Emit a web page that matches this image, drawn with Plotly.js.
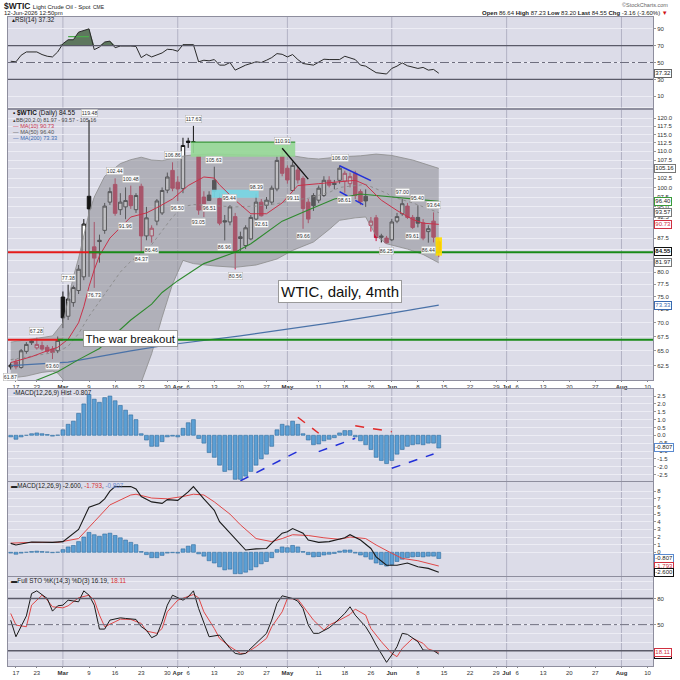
<!DOCTYPE html>
<html>
<head>
<meta charset="utf-8">
<script src="https://cdn.plot.ly/plotly-3.0.1.min.js"></script>
<style>
html,body{margin:0;padding:0;background:#ffffff;}
#chart{width:680px;height:680px;}
</style>
</head>
<body>
<div id="chart"></div>
<script>
// ================= DATA =================
const candleStart = '02-13';
const openP = [62.3,63.1,62.2,64.9,66.7,65.5,65.9,65.6,65.3,65.0,
74.9,71.2,73.8,76.2,79.0,97.7,85.5,87.0,89.3,96.2,
100.8,94.3,95.0,97.9,94.3,100.3,88.0,88.0,91.5,93.5,
99.3,104.6,101.4,99.7,113.0,112.6,108.7,97.5,98.0,101.9,
97.1,91.6,91.3,92.6,87.8,85.8,87.3,92.0,96.2,95.4,
96.2,99.6,108.7,105.2,99.2,104.7,102.4,96.2,97.9,96.7,
97.9,101.9,101.1,101.9,101.7,101.0,103.8,98.9,97.7,90.5,
92.3,88.0,87.5,87.1,91.5,93.3,95.2,92.4,92.4,91.1,
89.0,91.5,86.64];
const highP = [63.0,63.6,65.3,66.5,66.9,67.28,66.6,66.0,65.8,67.5,
76.0,77.38,77.2,81.5,92.0,119.48,91.3,88.3,96.0,100.0,
102.44,98.5,100.0,100.48,98.5,101.0,95.0,90.5,97.0,100.0,
104.0,106.86,103.0,114.0,114.0,117.63,109.0,99.0,99.0,105.63,
98.5,93.0,95.44,93.5,89.0,90.5,93.0,98.39,97.0,97.5,
100.5,108.5,110.91,106.0,107.0,105.5,103.0,97.0,98.5,100.5,
103.0,103.0,102.0,106.0,104.5,104.0,104.5,99.5,99.5,92.5,
93.0,88.5,88.0,92.0,93.5,97.0,96.0,93.0,95.40,92.0,
90.5,93.64,87.23];
const lowP = [61.87,61.9,62.0,64.5,66.0,65.2,65.0,64.6,63.60,64.6,
69.0,70.5,73.0,75.5,78.3,79.0,76.73,82.0,88.5,95.5,
92.8,93.0,91.96,94.5,93.5,84.37,87.0,86.46,90.5,93.0,
98.5,99.0,96.50,98.5,111.0,109.5,93.05,92.5,96.51,97.5,
90.5,86.96,90.5,80.56,84.5,85.0,87.0,91.5,92.61,94.5,
95.5,99.0,103.0,101.0,99.11,101.0,89.66,91.0,94.0,96.0,
97.5,100.0,99.5,101.0,98.61,100.0,97.0,95.5,95.0,89.0,
86.8,86.5,86.25,86.8,91.0,92.8,92.0,89.61,90.0,87.0,
86.44,86.5,83.20];
const closeP = [62.6,62.3,65.0,66.1,66.4,66.1,65.3,64.9,64.7,66.8,
70.9,74.5,76.8,80.6,90.8,94.5,83.0,86.7,95.2,98.9,
93.4,96.2,96.6,95.3,97.9,88.0,92.3,89.8,96.5,99.2,
102.8,99.8,99.6,111.7,112.6,112.8,94.2,94.1,96.6,99.0,
91.0,91.3,95.0,84.3,87.4,89.9,92.4,96.2,92.8,96.7,
99.8,107.4,103.8,102.0,106.0,102.0,94.6,92.0,95.3,99.8,
101.9,100.6,100.8,105.2,103.8,102.9,97.9,96.3,96.5,91.5,
87.6,87.7,86.4,91.3,92.6,95.8,92.4,90.0,91.0,87.5,
89.7,87.71,84.55];

const macdHist = [-0.1,-0.25,-0.1,0.0,0.1,0.15,0.1,0.05,-0.05,0.02,
0.35,0.7,0.9,1.4,2.0,2.6,2.3,2.1,2.4,2.5,
2.2,1.9,1.6,1.3,1.0,0.1,-0.3,-0.7,-0.7,-0.4,
-0.1,-0.05,-0.1,0.45,0.8,1.0,-0.2,-0.5,-1.1,-1.4,
-1.9,-2.3,-2.2,-2.8,-2.8,-2.6,-2.3,-1.9,-1.5,-1.2,
-0.7,0.35,0.7,0.6,0.9,0.7,0.1,-0.3,-0.6,-0.55,
-0.35,-0.25,-0.15,0.15,0.3,0.3,-0.1,-0.35,-0.6,-0.9,
-1.4,-1.6,-1.8,-1.6,-1.2,-0.9,-0.7,-0.6,-0.55,-0.6,
-0.5,-0.5,-0.807];

const macdDates = ['02-13','02-17','02-20','02-26','03-02','03-03','03-05','03-09','03-11','03-12','03-13','03-16','03-19','03-20','03-23','03-25','03-27','03-30','04-01','04-06','04-07','04-09','04-13','04-14','04-16','04-20','04-21','04-23','04-27','04-28','04-30','05-01','05-04','05-06','05-07','05-11','05-13','05-18','05-19','05-21','05-26','05-27','05-29','06-02','06-04','06-08','06-10','06-12'];
const macdVals = [1.17,0.96,1.35,1.3,1.4,1.9,3.0,5.9,6.4,7.0,8.0,8.6,8.6,8.3,7.3,6.6,6.4,6.9,6.8,7.9,8.6,7.0,5.5,4.0,2.5,1.0,0.3,0.45,0.5,1.2,2.5,2.7,3.1,2.5,1.6,1.3,1.4,1.9,2.3,1.6,0.5,-0.6,-1.7,-1.7,-1.4,-1.9,-2.1,-2.6];
const sigDates = ['02-13','02-20','02-27','03-05','03-10','03-13','03-19','03-20','03-25','03-30','04-02','04-07','04-09','04-13','04-16','04-20','04-23','04-28','04-30','05-04','05-07','05-12','05-15','05-19','05-22','05-27','06-01','06-03','06-08','06-10','06-12'];
const sigVals = [1.2,1.3,1.3,1.8,4.0,6.2,7.5,7.6,7.1,7.0,7.3,7.6,7.5,6.6,5.0,3.6,1.8,1.4,1.8,2.3,2.2,1.9,1.7,2.0,1.8,0.96,-0.13,-0.8,-1.1,-1.4,-1.793];

const rsiDates = ['02-13','02-17','02-18','02-19','02-23','02-24','02-25','02-26','02-27','03-02','03-03','03-04','03-05','03-09','03-10','03-11','03-12','03-13','03-16','03-17','03-19','03-20','03-23','03-24','03-25','03-27','03-30','03-31','04-01','04-02','04-07','04-08','04-09','04-10','04-13','04-14','04-15','04-16','04-17','04-20','04-21','04-23','04-24','04-27','04-28','04-29','04-30','05-01','05-04','05-05','05-06','05-08','05-11','05-12','05-13','05-15','05-18','05-19','05-20','05-21','05-22','05-26','05-27','05-29','06-01','06-02','06-03','06-04','06-08','06-09','06-10','06-11','06-12'];
const rsiVals = [51.5,50.8,58.6,62.5,62.5,59.4,57.4,56.6,62.5,72.2,76.9,76.9,85.9,89.8,65.2,68.3,74.2,75.3,67.5,69.5,69.5,69.0,55.8,59.7,56.6,61.3,65.6,65.2,63.3,71.1,71.1,50.8,52.7,52.0,53.5,46.9,46.9,50.0,41.0,43.8,46.9,50.8,50.0,52.7,55.8,60.5,59.7,56.6,59.4,53.5,48.8,46.9,50.0,53.9,53.5,53.5,57.4,55.8,53.5,46.9,45.7,41.8,38.0,36.4,43.0,45.7,49.6,46.1,43.0,44.2,41.0,41.8,37.32];
const rsiLevels = [30, 70];
const rsiMid = 50;
const rsiMarkDates = ['03-03','03-09'];
const rsiMarkLevel = 80.5;

const stoKDates = ['02-13','02-17','02-19','02-20','02-23','02-25','02-26','02-27','03-02','03-03','03-05','03-06','03-09','03-10','03-11','03-12','03-13','03-17','03-18','03-20','03-23','03-24','03-25','03-26','03-27','03-30','03-31','04-02','04-06','04-07','04-08','04-09','04-10','04-14','04-15','04-16','04-17','04-20','04-21','04-23','04-24','04-27','04-28','04-29','04-30','05-04','05-05','05-06','05-07','05-08','05-11','05-13','05-14','05-15','05-18','05-19','05-20','05-22','05-26','05-27','05-28','05-29','06-01','06-02','06-03','06-04','06-08','06-09','06-11','06-12'];
const stoKVals = [55.0,36.1,60.0,85.7,88.8,80.0,65.5,71.6,72.4,78.1,76.2,88.8,83.8,72.4,44.9,44.9,55.2,57.8,57.1,56.0,47.6,43.7,35.0,38.0,53.3,72.4,83.8,78.1,81.9,88.8,68.5,51.4,36.1,38.0,30.4,22.7,17.0,15.9,17.0,28.5,34.2,40.0,55.2,74.3,83.1,80.0,76.9,68.5,49.5,40.0,40.0,46.4,51.4,57.1,62.8,70.5,60.9,47.6,38.0,26.6,15.9,6.7,15.1,24.7,40.0,38.8,30.4,20.8,20.1,16.19];
const stoDDates = ['02-13','02-17','02-19','02-20','02-24','02-25','02-26','03-02','03-03','03-04','03-05','03-09','03-10','03-11','03-12','03-16','03-17','03-19','03-23','03-24','03-26','03-27','03-30','04-01','04-02','04-07','04-08','04-09','04-13','04-14','04-16','04-20','04-21','04-23','04-27','04-28','04-30','05-01','05-05','05-06','05-08','05-12','05-13','05-15','05-19','05-20','05-22','05-26','05-28','06-01','06-02','06-03','06-05','06-09','06-10','06-12'];
const stoDVals = [62.8,49.5,47.6,72.4,83.8,78.1,70.5,69.3,71.6,76.2,80.8,83.8,78.1,60.9,47.6,53.3,56.3,56.0,51.4,42.6,40.0,45.6,64.7,78.1,80.0,84.6,80.8,64.7,45.6,34.2,24.7,17.0,17.0,24.7,34.2,47.6,64.7,80.0,79.2,71.6,55.2,43.7,49.5,55.2,61.7,67.8,60.9,45.6,30.4,17.0,13.2,22.7,34.2,28.5,22.0,18.11];
const stoLevels = [20, 80];
const stoMid = 50;

const bbUpDates = ['02-13','02-20','02-26','03-02','03-03','03-04','03-05','03-09','03-10','03-12','03-17','03-19','03-23','03-25','03-27','04-01','04-07','04-13','04-20','04-27','05-04','05-07','05-11','05-15','05-21','05-27','06-01','06-05','06-09','06-12'];
const bbUpVals = [66.5,67.0,67.6,70.0,74.5,79.0,83.0,93.5,97.5,103.0,106.5,107.6,108.3,107.5,107.3,108.4,109.0,109.2,109.0,108.8,108.7,108.0,107.8,108.4,108.7,109.2,108.8,107.5,106.5,105.16];
const bbLoDates = ['02-13','02-19','02-24','02-26','02-27','03-02','03-03','03-05','03-09','03-12','03-17','03-19','03-23','03-25','03-27','03-31','04-02','04-07','04-13','04-17','04-23','04-29','05-04','05-06','05-08','05-13','05-15','05-20','05-22','05-27','05-29','06-04','06-09','06-12'];
const bbLoVals = [60.5,60.8,61.4,61.6,61.3,60.3,58.5,54.0,49.0,48.0,53.5,57.0,59.8,64.5,71.0,77.5,82.5,81.8,81.3,81.0,81.5,82.8,84.7,85.6,86.6,89.5,91.7,92.3,92.5,88.0,86.2,85.0,83.8,81.97];
const bbMidDates = ['02-13','02-27','03-03','03-05','03-09','03-12','03-17','03-19','03-23','03-25','03-27','03-31','04-02','04-07','04-13','04-17','04-23','04-29','05-04','05-07','05-13','05-15','05-20','05-22','05-29','06-01','06-05','06-12'];
const bbMidVals = [63.5,64.8,65.8,68.0,71.2,75.5,80.0,82.3,84.0,86.0,89.2,92.5,95.0,95.6,95.3,95.0,95.2,95.8,96.7,97.2,98.7,100.0,100.5,100.8,98.5,97.6,96.0,93.57];
const ma10Dates = ['02-13','02-20','02-25','02-27','03-03','03-05','03-06','03-09','03-10','03-11','03-13','03-17','03-19','03-24','03-26','03-31','04-06','04-09','04-13','04-14','04-17','04-22','04-27','04-30','05-05','05-11','05-15','05-20','05-22','05-28','06-02','06-05','06-09','06-12'];
const ma10Vals = [63.0,64.0,65.0,65.6,67.0,70.0,73.0,77.0,80.5,83.5,87.5,90.0,92.5,93.5,94.8,97.0,100.5,102.8,102.5,100.7,96.7,93.3,93.3,96.0,100.5,101.0,101.5,101.9,100.7,96.7,94.1,91.9,91.0,90.73];
const ma50Dates = ['02-19','02-27','03-05','03-11','03-19','03-25','03-27','04-01','04-09','04-17','04-22','04-30','05-07','05-14','05-21','05-29','06-08','06-12'];
const ma50Vals = [59.5,61.5,63.5,65.4,70.5,73.5,75.8,78.2,81.8,84.3,86.2,91.5,94.2,97.0,98.3,97.6,96.8,96.4];
const ma200Dates = ['02-13','03-03','03-19','03-30','04-20','05-04','05-15','06-01','06-12'];
const ma200Vals = [62.5,63.1,65.0,66.0,67.6,68.9,70.2,71.8,73.33];

const supportHigh = 84.3, supportLow = 66.9;
const supHighRedEnd = '03-11', supHighGreenStart = '03-09';
const supLowRedEnd = '03-02', supLowGreenStart = '02-27';
const greenZoneDates = ['04-07','05-04'], greenZoneVals = [108.4, 112.7];
const cyanZoneDates = ['04-13','04-23'], cyanZoneVals = [97.3, 99.4];

const trendBlackDates = ['04-30','05-07'], trendBlackVals = [110.9, 102.2];
const trendBlueUpDates = ['05-15','05-26'], trendBlueUpVals = [105.9, 101.8];
const trendBlueLoDates = ['05-15','05-26'], trendBlueLoVals = [98.9, 94.5];
const histBlueDates = [['04-20','05-06'],['05-11','05-20'],['06-01','06-11']];
const histBlueVals = [[-2.9,-0.85],[-1.04,-0.19],[-2.1,-1.19]];
const histRedDates = [['05-05','05-11'],['05-20','06-01']];
const histRedVals = [[1.15,0.13],[0.61,0.23]];

const hiLabelDates = ['02-23','03-03','03-09','03-16','03-19','03-31','04-07','04-13','04-16','04-23','04-30','05-15','06-03','06-08','06-11'];
const hiLabelVals = [67.28,77.38,119.48,102.44,100.48,106.86,117.63,105.63,95.44,98.39,110.91,106.00,97.00,95.40,93.64];
const loLabelDates = ['02-13','02-26','03-10','03-18','03-23','03-25','04-01','04-08','04-10','04-15','04-17','04-24','05-04','05-06','05-18','05-29','06-05','06-10'];
const loLabelVals = [61.87,63.60,76.73,91.96,84.37,86.46,96.50,93.05,96.51,86.96,80.56,92.61,99.11,89.66,98.61,86.25,89.61,86.44];

const tickDates = ['02-17','02-23','03-02','03-09','03-16','03-23','03-30','04-01','04-06','04-13','04-20','04-27','05-01','05-11','05-18','05-26','06-01','06-08','06-15','06-22','06-29','07-01','07-06','07-13','07-20','07-27','08-03','08-10'];
const tickLabels = ['17','23','Mar','9','16','23','30','Apr','6','13','20','27','May','11','18','26','Jun','8','15','22','29','Jul','6','13','20','27','Aug','10'];
const monthStarts = ['03-02','04-01','05-01','06-01','07-01','08-03'];
const priceTicks = [62.5,65,67.5,70,72.5,75,77.5,80,82.5,85,87.5,90,92.5,95,97.5,100,102.5,105,107.5,110,112.5,115,117.5,120];
const rsiTicks = [10,30,50,70,90];
const histTicks = [-2.5,-2,-1.5,-1,-0.5,0,0.5,1,1.5,2,2.5];
const macdTicks = [0,1,2,3,4,5,6,7,8];
const stoTicks = [20,50,80];

// ================= TRADING CALENDAR =================
const HOLIDAYS = ['2026-02-16','2026-04-03','2026-05-25','2026-07-03'];
function buildCalendar(a, b){
  const out = []; const d = new Date(a + 'T00:00:00Z'); const e = new Date(b + 'T00:00:00Z');
  while (d <= e) {
    const wd = d.getUTCDay(); const s = d.toISOString().slice(0,10);
    if (wd !== 0 && wd !== 6 && HOLIDAYS.indexOf(s) < 0) out.push(s);
    d.setUTCDate(d.getUTCDate() + 1);
  }
  return out;
}
const CAL = buildCalendar('2026-02-12','2026-08-14');
const D = md => CAL.indexOf('2026-' + md);
const XS = arr => arr.map(D);
const s0 = D(candleStart);
const candleX = openP.map((_, k) => s0 + k);
const XR = [0.48, 124.04];
const X0 = 8/680, X1 = 653/680;
const PX = p => p/680, PY = p => 1 - p/680;
const dom = {
  rsi:[PY(107.5), PY(16.5)], price:[PY(380), PY(110)], hist:[PY(481), PY(389)],
  macd:[PY(576), PY(482)], sto:[PY(666), PY(577)]
};
const last = a => a[a.length-1];
const RED = '#c8143c', BLK = '#151515';

// ================= TRACES =================
const traces = [];
function line(xa, ya, x, y, color, width, dash, extra){
  traces.push(Object.assign({type:'scatter', mode:'lines', xaxis:xa, yaxis:ya, x, y,
    line:{color, width, dash: dash || 'solid'}, hoverinfo:'skip', showlegend:false}, extra || {}));
}

// RSI panel
const rx = XS(rsiDates);
line('x','y', rx, rx.map(() => rsiLevels[1]), 'rgba(0,0,0,0)', 0);
line('x','y', rx, rsiVals.map(v => Math.max(v, rsiLevels[1])), 'rgba(0,0,0,0)', 0, null, {fill:'tonexty', fillcolor:'#5e775e'});
line('x','y', XS(rsiMarkDates), rsiMarkDates.map(() => rsiMarkLevel), '#4caa4c', 1.2);
line('x','y', rx, rsiVals, '#2a2a2a', 1);

// Price panel: Bollinger band
line('x2','y2', XS(bbUpDates), bbUpVals, '#8c8c8c', 0.8);
line('x2','y2', XS(bbLoDates), bbLoVals, '#8c8c8c', 0.8, null, {fill:'tonexty', fillcolor:'rgba(140,140,145,0.55)'});
// zones
const gz = XS(greenZoneDates);
line('x2','y2', [gz[0]-0.5, gz[1]+0.5, gz[1]+0.5, gz[0]-0.5, gz[0]-0.5],
  [greenZoneVals[0], greenZoneVals[0], greenZoneVals[1], greenZoneVals[1], greenZoneVals[0]],
  'rgba(0,0,0,0)', 0, null, {fill:'toself', fillcolor:'rgba(150,215,150,0.92)'});
line('x2','y2', [gz[0]-0.5, gz[1]+0.5], [greenZoneVals[1], greenZoneVals[1]], '#3c963c', 1.3);
const cz = XS(cyanZoneDates);
line('x2','y2', [cz[0]-0.5, cz[1]+0.5, cz[1]+0.5, cz[0]-0.5, cz[0]-0.5],
  [cyanZoneVals[0], cyanZoneVals[0], cyanZoneVals[1], cyanZoneVals[1], cyanZoneVals[0]],
  'rgba(0,0,0,0)', 0, null, {fill:'toself', fillcolor:'rgba(120,215,228,0.9)'});
// moving averages
line('x2','y2', XS(bbMidDates), bbMidVals, '#8a8a8a', 0.9, 'dot');
line('x2','y2', XS(ma200Dates), ma200Vals, '#4a72a8', 1.2);
line('x2','y2', XS(ma50Dates), ma50Vals, '#2f8a2f', 1.1);
line('x2','y2', XS(ma10Dates), ma10Vals, '#c8324a', 1);
// support lines
line('x2','y2', [XR[0]-2, D(supHighRedEnd)], [supportHigh, supportHigh], '#e41a1a', 2);
line('x2','y2', [D(supHighGreenStart), XR[1]+2], [supportHigh, supportHigh], '#198a19', 2);
line('x2','y2', [XR[0]-2, D(supLowRedEnd)], [supportLow, supportLow], '#e41a1a', 2);
line('x2','y2', [D(supLowGreenStart), XR[1]+2], [supportLow, supportLow], '#198a19', 2);
// trend lines
line('x2','y2', XS(trendBlackDates), trendBlackVals, '#111', 1.3);
line('x2','y2', XS(trendBlueUpDates), trendBlueUpVals, '#2230d8', 1.5);
line('x2','y2', XS(trendBlueLoDates), trendBlueLoVals, '#2230d8', 1.5, 'dash');
// highlight of the current bar
const lk = closeP.length - 1, lx = candleX[lk];
const bTop = Math.max(openP[lk], closeP[lk]) * 1.012, bBot = Math.min(openP[lk], closeP[lk]) * 0.988;
line('x2','y2', [lx-0.62, lx+0.62, lx+0.62, lx-0.62, lx-0.62], [bBot, bBot, bTop, bTop, bBot],
  'rgba(0,0,0,0)', 0, null, {fill:'toself', fillcolor:'rgba(255,222,0,0.9)'});
// candles: black when close >= previous close, red otherwise
const grp = {k:{x:[],o:[],h:[],l:[],c:[]}, r:{x:[],o:[],h:[],l:[],c:[]}};
closeP.forEach((c, k) => {
  const prev = k > 0 ? closeP[k-1] : openP[k];
  const g = c >= prev ? grp.k : grp.r;
  g.x.push(candleX[k]); g.o.push(openP[k]); g.h.push(highP[k]); g.l.push(lowP[k]); g.c.push(c);
});
function candle(g, col){
  traces.push({type:'candlestick', xaxis:'x2', yaxis:'y2', x:g.x, open:g.o, high:g.h, low:g.l, close:g.c,
    increasing:{line:{color:col, width:1}, fillcolor:'#ffffff'},
    decreasing:{line:{color:col, width:1}, fillcolor:col},
    whiskerwidth:0, hoverinfo:'skip', showlegend:false});
}
candle(grp.k, BLK);
candle(grp.r, RED);

// MACD histogram panels
function histBars(xa, ya){
  traces.push({type:'bar', xaxis:xa, yaxis:ya, x:candleX, y:macdHist, width:0.74,
    marker:{color:'#5c9fd4', line:{color:'#2d6a9c', width:0.6}}, hoverinfo:'skip', showlegend:false});
}
histBars('x3','y3');
histBars('x4','y4');
line('x4','y4', XS(sigDates), sigVals, '#e04848', 1);
line('x4','y4', XS(macdDates), macdVals, '#1a1a1a', 1.1);

// STO panel
line('x5','y5', XS(stoDDates), stoDVals, '#e04848', 1);
line('x5','y5', XS(stoKDates), stoKVals, '#1a1a1a', 1);

// ================= AXES =================
const tickX = XS(tickDates);
const tickText = tickLabels.map(t => isNaN(+t) ? '<b>' + t + '</b>' : t);
function xax(anchor, show){
  return {type:'linear', domain:[X0, X1], anchor, range:XR, tickmode:'array', tickvals:tickX, ticktext:tickText,
    showticklabels:show, ticks: show ? 'outside' : '', ticklen:1, tickcolor:'#888',
    tickfont:{size:6, color:'#333'}, tickangle:0, showgrid:false, zeroline:false,
    showline:true, mirror:true, linecolor:'#8e8e9e', linewidth:1, fixedrange:true, rangeslider:{visible:false}};
}
function yax(d, anchor, range, tv, tt, extra){
  return Object.assign({domain:d, anchor, side:'right', range, tickmode:'array', tickvals:tv, ticktext:tt,
    showgrid:true, gridcolor:'#ececf4', gridwidth:1, zeroline:false, showline:true, mirror:true,
    linecolor:'#8e8e9e', linewidth:1, ticks:'outside', ticklen:2, tickcolor:'#999',
    tickfont:{size:6, color:'#333'}, fixedrange:true}, extra || {});
}

// ================= SHAPES =================
const shapes = [];
[['x','y'],['x2','y2'],['x3','y3'],['x4','y4'],['x5','y5']].forEach(([xa, ya]) => {
  monthStarts.forEach(m => shapes.push({type:'line', xref:xa, yref:ya + ' domain', x0:D(m), x1:D(m), y0:0, y1:1,
    line:{color:'#b2b2c4', width:1}, layer:'below'}));
});
rsiLevels.forEach(v => shapes.push({type:'line', xref:'x domain', yref:'y', x0:0, x1:1, y0:v, y1:v, line:{color:'#5a5a68', width:1.4}}));
shapes.push({type:'line', xref:'x domain', yref:'y', x0:0, x1:1, y0:rsiMid, y1:rsiMid, line:{color:'#6e6e7e', width:1, dash:'dashdot'}});
stoLevels.forEach(v => shapes.push({type:'line', xref:'x5 domain', yref:'y5', x0:0, x1:1, y0:v, y1:v, line:{color:'#5a5a68', width:1.4}}));
shapes.push({type:'line', xref:'x5 domain', yref:'y5', x0:0, x1:1, y0:stoMid, y1:stoMid, line:{color:'#6e6e7e', width:1, dash:'dashdot'}});
histBlueDates.forEach((p, k) => shapes.push({type:'line', xref:'x3', yref:'y3', x0:D(p[0]), x1:D(p[1]),
  y0:histBlueVals[k][0], y1:histBlueVals[k][1], line:{color:'#2230d8', width:1.5, dash:'dash'}}));
histRedDates.forEach((p, k) => shapes.push({type:'line', xref:'x3', yref:'y3', x0:D(p[0]), x1:D(p[1]),
  y0:histRedVals[k][0], y1:histRedVals[k][1], line:{color:'#e02a2a', width:1.5, dash:'dash'}}));

// ================= ANNOTATIONS =================
const ann = [];
function txt(px, py, text, size, extra){
  ann.push(Object.assign({xref:'paper', yref:'paper', x:PX(px), y:PY(py), xanchor:'left', yanchor:'middle',
    text, showarrow:false, font:{size, color:'#222'}}, extra || {}));
}
const lastClose = last(closeP), prevClose = closeP[closeP.length-2];
const chg = lastClose - prevClose;
txt(2, 6, '<b>$WTIC</b> <span style="font-size:6px">Light Crude Oil - Spot</span> <span style="font-size:5px">CME</span>', 8.5);
txt(2, 13, '12-Jun-2026 12:50pm', 6);
txt(670, 5.5, '©StockCharts.com', 5.5, {xanchor:'right', font:{size:5.5, color:'#666'}});
txt(670, 13, '<b>Open</b> ' + openP[lk].toFixed(2) + ' <b>High</b> ' + highP[lk].toFixed(2) + ' <b>Low</b> ' + lowP[lk].toFixed(2) +
  ' <b>Last</b> ' + lastClose.toFixed(2) + ' <b>Chg</b> ' + chg.toFixed(2) + ' (' + (chg/prevClose*100).toFixed(2) + '%) <span style="color:#d01010">▼</span>',
  6, {xanchor:'right'});
txt(10, 20, '▴RSI(14) ' + last(rsiVals).toFixed(2), 6.3);
txt(11, 113.5, '▪ <b>$WTIC</b> (Daily) ' + lastClose.toFixed(2), 6.4, {font:{size:6.4, color:'#111'}});
txt(11, 120, '▴BB(20,2.0) ' + last(bbLoVals).toFixed(2) + ' - ' + last(bbMidVals).toFixed(2) + ' - ' + last(bbUpVals).toFixed(2), 5.4, {font:{size:5.4, color:'#444'}});
txt(11, 126, '— MA(10) ' + last(ma10Vals).toFixed(2), 5.6, {font:{size:5.6, color:'#c8324a'}});
txt(11, 132, '— MA(50) ' + last(ma50Vals).toFixed(2), 5.6, {font:{size:5.6, color:'#555'}});
txt(11, 138, '— MA(200) ' + last(ma200Vals).toFixed(2), 5.6, {font:{size:5.6, color:'#3a6ab0'}});
txt(11, 393, '<span style="color:#3a7ab8">▪</span>MACD(12,26,9) Hist ' + last(macdHist).toFixed(3), 6.3);
txt(9, 486, '▬MACD(12,26,9) ' + last(macdVals).toFixed(3) + ', <span style="color:#d83030">' + last(sigVals).toFixed(3) +
  '</span>, <span style="color:#6a8ad0">' + last(macdHist).toFixed(3) + '</span>', 6.3);
txt(9, 581, '▬Full STO %K(14,3) %D(3) ' + last(stoKVals).toFixed(2) + ', <span style="color:#d83030">' + last(stoDVals).toFixed(2) + '</span>', 6.3);

// text boxes
ann.push({xref:'paper', yref:'paper', x:PX(340), y:PY(291.5), xanchor:'center', yanchor:'middle', showarrow:false,
  text:'WTIC, daily, 4mth', font:{size:15, color:'#111', family:'Liberation Sans, Arial, sans-serif'},
  bgcolor:'#ffffff', bordercolor:'#9a9a9a', borderwidth:1, borderpad:2});
ann.push({xref:'paper', yref:'paper', x:PX(130), y:PY(338.5), xanchor:'center', yanchor:'middle', showarrow:false,
  text:'The war breakout', font:{size:11.5, color:'#111', family:'Liberation Sans, Arial, sans-serif'},
  bgcolor:'#ffffff', bordercolor:'#9a9a9a', borderwidth:1, borderpad:1.5});

// swing labels
hiLabelDates.forEach((d, k) => ann.push({xref:'x2', yref:'y2', x:D(d), y:Math.log10(hiLabelVals[k]), yshift:3,
  xanchor:'center', yanchor:'bottom', showarrow:false, text:hiLabelVals[k].toFixed(2),
  font:{size:5.2, color:'#333'}, bgcolor:'rgba(255,255,255,0.92)', bordercolor:'#b0b0b0', borderwidth:0.5, borderpad:0.3}));
loLabelDates.forEach((d, k) => ann.push({xref:'x2', yref:'y2', x:D(d), y:Math.log10(loLabelVals[k]), yshift:-3,
  xanchor:'center', yanchor:'top', showarrow:false, text:loLabelVals[k].toFixed(2),
  font:{size:5.2, color:'#333'}, bgcolor:'rgba(255,255,255,0.92)', bordercolor:'#b0b0b0', borderwidth:0.5, borderpad:0.3}));

// right-side value boxes
function vbox(yref, yv, text, border, color, bold){
  ann.push({xref:'paper', yref, x:X1 + 1.2/680, y:yv, xanchor:'left', yanchor:'middle', showarrow:false,
    text: bold ? '<b>' + text + '</b>' : text, font:{size:6, color:color || '#222'},
    bgcolor:'#ffffff', bordercolor:border, borderwidth:1, borderpad:0.3});
}
const LG = Math.log10;
vbox('y2', LG(last(bbUpVals)), last(bbUpVals).toFixed(2), '#777');
vbox('y2', LG(last(ma50Vals)), last(ma50Vals).toFixed(2), '#3a9a3a');
vbox('y2', LG(last(bbMidVals)), last(bbMidVals).toFixed(2), '#777');
vbox('y2', LG(last(ma10Vals)), last(ma10Vals).toFixed(2), '#d03040', '#d03040');
vbox('y2', LG(lastClose), lastClose.toFixed(2), '#111', '#111', true);
vbox('y2', LG(last(bbLoVals)), last(bbLoVals).toFixed(2), '#777');
vbox('y2', LG(last(ma200Vals)), last(ma200Vals).toFixed(2), '#3a6ab0', '#3a6ab0');
vbox('y', last(rsiVals), last(rsiVals).toFixed(2), '#666');
vbox('y3', last(macdHist), last(macdHist).toFixed(3), '#5a8ad0');
vbox('y4', last(macdHist), last(macdHist).toFixed(3), '#5a8ad0');
vbox('y4', last(sigVals), last(sigVals).toFixed(3), '#d03040', '#d03040');
vbox('y4', last(macdVals), last(macdVals).toFixed(3), '#111');
vbox('y5', last(stoKVals), last(stoKVals).toFixed(2), '#111');
vbox('y5', last(stoDVals), last(stoDVals).toFixed(2), '#d03040', '#d03040');

// ================= LAYOUT =================
const fmt1 = v => v.toFixed(1);
const layout = {
  width:680, height:680, margin:{l:0, r:0, t:0, b:0},
  paper_bgcolor:'#ffffff', plot_bgcolor:'#dcdce8', showlegend:false, hovermode:false,
  boxmode:'overlay', boxgap:0.33, boxgroupgap:0,
  font:{family:'Liberation Sans, Arial, sans-serif', size:6, color:'#333'},
  xaxis:xax('y', false), xaxis2:xax('y2', true), xaxis3:xax('y3', false), xaxis4:xax('y4', false), xaxis5:xax('y5', true),
  yaxis:yax(dom.rsi, 'x', [-3.2, 104.4], rsiTicks, rsiTicks.map(String)),
  yaxis2:yax(dom.price, 'x2', [Math.log10(60.18), Math.log10(122.66)], priceTicks, priceTicks.map(fmt1), {type:'log'}),
  yaxis3:yax(dom.hist, 'x3', [-2.91, 2.95], histTicks, histTicks.map(fmt1)),
  yaxis4:yax(dom.macd, 'x4', [-3.1, 9.2], macdTicks, macdTicks.map(String)),
  yaxis5:yax(dom.sto, 'x5', [2.5, 104.7], stoTicks, stoTicks.map(String),
    {minor:{tickmode:'array', tickvals:[10,30,40,60,70,90,100], showgrid:true, gridcolor:'#ececf4', ticks:''}}),
  shapes, annotations:ann
};

Plotly.newPlot('chart', traces, layout, {staticPlot:true, displayModeBar:false});
</script>
</body>
</html>
